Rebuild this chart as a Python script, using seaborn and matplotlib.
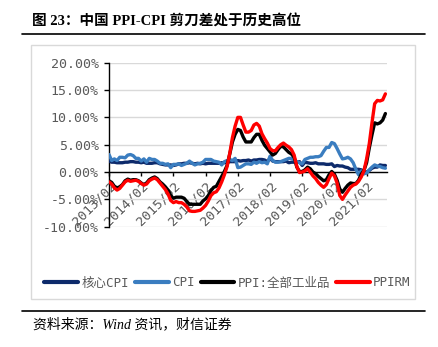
import numpy as np
import pandas as pd
import matplotlib
matplotlib.use("Agg")
import matplotlib.pyplot as plt
import seaborn as sns
from matplotlib.lines import Line2D
from matplotlib.patches import Rectangle

sns.set_theme(style="white")
plt.rcParams['font.family'] = ['DejaVu Sans Mono', 'Noto Sans CJK SC']

# ---------------- data (monthly, 2013/02 - 2021/09, % yoy) ----------------
months = pd.date_range("2013-02-01", "2021-09-01", freq="MS").strftime("%Y/%m").tolist()

core_cpi = [
    2.0, 1.8, 1.8, 1.7, 1.7, 1.7, 1.8, 1.8, 1.9, 1.9, 1.8,
    1.8, 1.7, 1.8, 1.6, 1.6, 1.6, 1.7, 1.7, 1.5, 1.4, 1.3, 1.3,
    1.3, 1.2, 1.3, 1.5, 1.5, 1.6, 1.6, 1.7, 1.6, 1.5, 1.6, 1.5,
    1.6, 1.5, 1.6, 1.6, 1.6, 1.6, 1.6, 1.7, 1.7, 1.8, 1.9, 1.9,
    1.9, 2.1, 2.0, 2.1, 2.1, 2.2, 2.0, 2.2, 2.2, 2.3, 2.3, 2.2,
    1.9, 2.5, 2.0, 1.9, 1.9, 1.9, 1.9, 2.0, 1.7, 1.8, 1.8, 1.8,
    1.9, 1.2, 1.8, 1.7, 1.6, 1.6, 1.7, 1.5, 1.5, 1.5, 1.4, 1.4,
    1.5, 1.0, 1.2, 1.1, 1.1, 0.9, 0.8, 0.5, 0.5, 0.5, 0.5, 0.4,
    -0.3, 0.0, 0.3, 0.7, 0.9, 0.9, 1.3, 1.2, 1.2,
]
cpi = [
    3.2, 2.1, 2.4, 2.1, 2.7, 2.7, 2.6, 3.1, 3.2, 3.0, 2.5,
    2.5, 2.0, 2.4, 1.8, 2.5, 2.3, 2.3, 2.0, 1.6, 1.6, 1.4, 1.5,
    0.8, 1.4, 1.4, 1.5, 1.2, 1.4, 1.6, 2.0, 1.6, 1.3, 1.5, 1.6,
    1.8, 2.3, 2.3, 2.3, 2.0, 1.9, 1.8, 1.3, 1.9, 2.1, 2.3, 2.1,
    2.5, 0.8, 0.9, 1.2, 1.5, 1.5, 1.4, 1.8, 1.6, 1.9, 1.7, 1.8,
    1.5, 2.9, 2.1, 1.8, 1.8, 1.9, 2.1, 2.3, 2.5, 2.5, 2.2, 1.9,
    1.7, 1.5, 2.3, 2.5, 2.7, 2.7, 2.8, 2.8, 3.0, 3.8, 4.5, 4.5,
    5.4, 5.2, 4.3, 3.3, 2.4, 2.5, 2.7, 2.4, 1.7, 0.5, -0.5, 0.2,
    -0.3, -0.2, 0.4, 0.9, 1.3, 1.1, 1.0, 0.8, 0.7,
]
ppi = [
    -1.6, -1.9, -2.6, -2.9, -2.7, -2.3, -1.6, -1.3, -1.5, -1.4, -1.4,
    -1.6, -2.0, -2.3, -2.0, -1.4, -1.1, -0.9, -1.2, -1.8, -2.2, -2.7, -3.3,
    -4.3, -4.8, -4.6, -4.6, -4.6, -4.8, -5.4, -5.9, -5.9, -5.9, -5.9, -5.9,
    -5.3, -4.9, -4.3, -3.4, -2.8, -2.6, -1.7, -0.8, 0.1, 1.2, 3.3, 5.5,
    6.9, 7.8, 7.6, 6.4, 5.5, 5.5, 5.5, 6.3, 6.9, 6.9, 5.8, 4.9,
    4.3, 3.7, 3.1, 3.4, 4.1, 4.7, 4.6, 4.1, 3.6, 3.3, 2.7, 0.9,
    0.1, 0.1, 0.4, 0.9, 0.6, 0.0, -0.3, -0.8, -1.2, -1.6, -1.4, -0.5,
    0.1, -0.4, -1.5, -3.1, -3.7, -3.0, -2.4, -2.0, -2.1, -2.1, -1.5, -0.4,
    0.3, 1.7, 4.4, 6.8, 9.0, 8.8, 9.0, 9.5, 10.7,
]
ppirm = [
    -1.8, -2.2, -2.9, -3.3, -3.0, -2.4, -1.8, -1.5, -1.7, -1.6, -1.5,
    -1.7, -2.1, -2.4, -2.2, -1.6, -1.3, -1.1, -1.4, -2.0, -2.6, -3.2, -4.0,
    -5.2, -5.6, -5.4, -5.6, -5.6, -5.9, -6.4, -7.1, -7.2, -7.2, -7.1, -7.0,
    -6.6, -6.1, -5.3, -4.3, -3.8, -3.6, -2.9, -1.8, -0.5, 1.0, 3.4, 6.3,
    8.4, 10.0, 10.0, 8.6, 7.3, 7.3, 7.6, 8.6, 8.9, 8.4, 7.0, 6.1,
    5.3, 4.3, 3.9, 3.9, 4.5, 5.0, 5.3, 4.9, 4.6, 4.1, 3.1, 1.0,
    -0.1, 0.0, 0.2, 0.6, 0.0, -0.7, -1.2, -1.9, -2.4, -2.8, -2.3, -1.2,
    -0.2, -0.7, -2.0, -4.3, -5.0, -4.2, -3.5, -2.8, -2.4, -2.2, -1.7, -0.9,
    0.2, 2.4, 5.2, 9.0, 12.5, 13.1, 13.0, 13.2, 14.3,
]

series_names = ["核心CPI", "CPI", "PPI:全部工业品", "PPIRM"]
series_colors = ["#0D2A6B", "#3A7DC0", "#000000", "#FF0000"]
yticks = [-10, -5, 0, 5, 10, 15, 20]
xtick_labels = ["2013/02", "2014/02", "2015/02", "2016/02", "2017/02",
                "2018/02", "2019/02", "2020/02", "2021/02"]

# ---------------- long-form table ----------------
idx = np.arange(len(months))
frames = []
for name, vals in zip(series_names, [core_cpi, cpi, ppi, ppirm]):
    frames.append(pd.DataFrame({"x": idx, "month": months, "value": vals, "series": name}))
df = pd.concat(frames, ignore_index=True)

# ---------------- figure ----------------
W, H = 438, 347
fig = plt.figure(figsize=(W / 100, H / 100), dpi=100)

def fx(px):
    return px / W

def fy(py):
    return 1 - py / H

# chart frame
fig.patches.append(Rectangle((fx(30.7), fy(299)), fx(415) - fx(30.7), fy(45) - fy(299),
                             transform=fig.transFigure, fill=False,
                             edgecolor="#D9D9D9", linewidth=1.0, zorder=0))
# title & rules
fig.text(fx(32.5), fy(22), "图 23：中国 PPI-CPI 剪刀差处于历史高位",
         family=['Liberation Serif', 'Noto Sans CJK SC'], fontsize=10.5,
         fontweight='bold', color='black', va='center', ha='left')
fig.add_artist(Line2D([fx(21.7), fx(425)], [fy(33.5), fy(33.5)],
                      transform=fig.transFigure, color='black', lw=1.2))
fig.add_artist(Line2D([fx(21.7), fx(425)], [fy(310.7), fy(310.7)],
                      transform=fig.transFigure, color='black', lw=1.2))
fig.text(fx(33), fy(324), "资料来源：Wind 资讯，财信证券",
         family=['Liberation Serif', 'Noto Sans CJK SC'], fontsize=10,
         style='italic', color='black', va='center', ha='left')

ax = fig.add_axes([fx(109), fy(226.7), fx(387) - fx(109), fy(62.7) - fy(226.7)])

sns.lineplot(data=df, x="x", y="value", hue="series", hue_order=series_names,
             palette=dict(zip(series_names, series_colors)), linewidth=2.4,
             ax=ax, legend=False, zorder=3)

# spine placement first (it resets tick objects)
for s in ['top', 'right']:
    ax.spines[s].set_visible(False)
ax.spines['left'].set_color('black')
ax.spines['left'].set_linewidth(1.0)
ax.spines['bottom'].set_position(('data', 0))
ax.spines['bottom'].set_color('black')
ax.spines['bottom'].set_linewidth(1.0)
ax.spines['bottom'].set_zorder(2)

ax.set_xlim(0, 103.6)
ax.set_ylim(-10, 20)
ax.set_yticks(yticks)
ax.set_yticklabels([f"{v:.2f}%" for v in yticks])
ax.set_xticks(np.arange(0, 97, 12))
ax.set_xticklabels(xtick_labels)
ax.set_xlabel("")
ax.set_ylabel("")

ax.grid(axis='y', color='#D9D9D9', linewidth=1.0)
ax.grid(axis='x', visible=False)

ax.tick_params(axis='y', which='major', left=True, length=3.5, width=1.0,
               color='black', labelsize=9.5, labelcolor='#595959', pad=4)
ax.tick_params(axis='x', which='major', bottom=True, length=3, width=1.0,
               color='black', labelsize=9.5, labelcolor='#595959', pad=2,
               labelrotation=45)
for lab in ax.get_xticklabels():
    lab.set_ha('right')
    lab.set_va('top')
    lab.set_rotation_mode('anchor')
ax.set_facecolor('none')

# legend
handles = [Line2D([0], [0], color=c, lw=3) for c in series_colors]
leg = fig.legend(handles, series_names, loc='center', bbox_to_anchor=(fx(227.5), fy(283)),
                 ncol=4, frameon=False, handlelength=2.7, handletextpad=0.25,
                 columnspacing=0.5, prop={'size': 9})
for t in leg.get_texts():
    t.set_color('#595959')

fig.savefig("out.png", dpi=100)
